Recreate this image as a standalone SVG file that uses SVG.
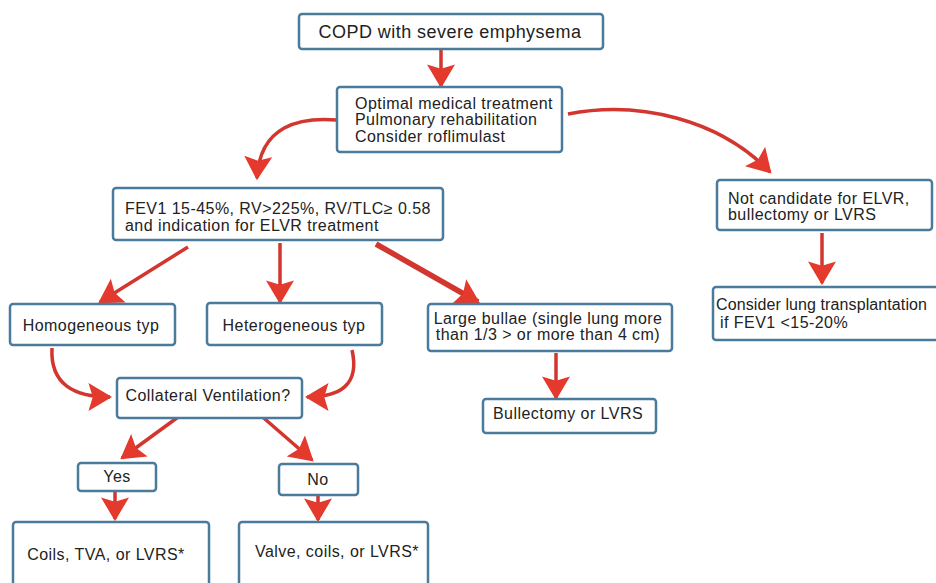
<svg xmlns="http://www.w3.org/2000/svg" width="936" height="583" viewBox="0 0 936 583">
<style>
.box{fill:#ffffff;stroke:#4a7b9d;stroke-width:2.5}
.t{font-family:"Liberation Sans",Arial,sans-serif;font-size:16px;fill:#222;letter-spacing:0.45px}
.c{text-anchor:middle}
.arr{fill:none;stroke:#d2362e;stroke-width:3.5;marker-end:url(#ah)}
</style>
<defs>
<marker id="ah" markerUnits="userSpaceOnUse" markerWidth="24" markerHeight="28" viewBox="0 0 22 26" refX="20" refY="13" orient="auto">
<path d="M0,0 L22,13 L0,26 L4,13 z" fill="#e33a2d"/>
</marker>
</defs>
<rect width="936" height="583" fill="#ffffff"/>
<g id="connectors">
<path class="arr" d="M441,49 L441,86"/>
<path class="arr" d="M337,120 C300,117 260,125 257,178"/>
<path class="arr" d="M568,114 C640,100 720,120 770,172"/>
<path class="arr" d="M822,233 L822,283"/>
<path class="arr" d="M188,247 L100,302"/>
<path class="arr" d="M280,243 L280,302"/>
<path class="arr" style="stroke-width:5.5" d="M376,244 L478,302"/>
<path class="arr" d="M556,353 L556,398"/>
<path class="arr" d="M52,348 C50,385 75,397 110,397"/>
<path class="arr" d="M352,350 C360,385 340,397 307,397"/>
<path class="arr" d="M185,412 L122,458"/>
<path class="arr" d="M258,413 L312,460"/>
<path class="arr" d="M115,492 L115,519"/>
<path class="arr" d="M318,496 L318,520"/>
</g>
<g id="n-copd">
<rect class="box" x="299" y="14" width="304" height="35" rx="3"/>
<text class="t c" x="450" y="38" style="font-size:18px">COPD with severe emphysema</text>
</g>
<g id="n-optimal">
<rect class="box" x="337" y="87" width="225" height="65" rx="3"/>
<text class="t" x="355" y="108.5">Optimal medical treatment</text>
<text class="t" x="355" y="125">Pulmonary rehabilitation</text>
<text class="t" x="355" y="141.5">Consider roflimulast</text>
</g>
<g id="n-fev1">
<rect class="box" x="113" y="188" width="330" height="52" rx="3"/>
<text class="t" x="125" y="213.5">FEV1 15-45%, RV&gt;225%, RV/TLC≥ 0.58</text>
<text class="t" x="125" y="230.5">and indication for ELVR treatment</text>
</g>
<g id="n-notcand">
<rect class="box" x="717" y="180" width="215" height="50" rx="3"/>
<text class="t" x="728" y="204">Not candidate for ELVR,</text>
<text class="t" x="728" y="220">bullectomy or LVRS</text>
</g>
<g id="n-transplant">
<rect class="box" x="713" y="287" width="230" height="53" rx="3"/>
<text class="t" x="716" y="310" style="letter-spacing:0.1px">Consider lung transplantation</text>
<text class="t" x="720" y="328">if FEV1 &lt;15-20%</text>
</g>
<g id="n-homog">
<rect class="box" x="10" y="304" width="165" height="41" rx="3"/>
<text class="t c" x="91" y="331">Homogeneous typ</text>
</g>
<g id="n-heterog">
<rect class="box" x="207" y="303" width="175" height="42" rx="3"/>
<text class="t c" x="294" y="331">Heterogeneous typ</text>
</g>
<g id="n-bullae">
<rect class="box" x="428" y="304" width="244" height="47" rx="3"/>
<text class="t c" x="548" y="324">Large bullae (single lung more</text>
<text class="t c" x="548" y="340">than 1/3 &gt; or more than 4 cm)</text>
</g>
<g id="n-bullectomy">
<rect class="box" x="483" y="399" width="173" height="34" rx="3"/>
<text class="t c" x="568" y="418.5">Bullectomy or LVRS</text>
</g>
<g id="n-collateral">
<rect class="box" x="117" y="378" width="185" height="40" rx="3"/>
<text class="t c" x="208" y="401">Collateral Ventilation?</text>
</g>
<g id="n-yes">
<rect class="box" x="78" y="463" width="78" height="28" rx="3"/>
<text class="t c" x="117" y="482">Yes</text>
</g>
<g id="n-no">
<rect class="box" x="279" y="464" width="79" height="31" rx="3"/>
<text class="t c" x="318" y="485">No</text>
</g>
<g id="n-coils">
<rect class="box" x="13" y="522" width="196" height="70" rx="3"/>
<text class="t c" x="106" y="560">Coils, TVA, or LVRS*</text>
</g>
<g id="n-valve">
<rect class="box" x="239" y="522" width="189" height="70" rx="3"/>
<text class="t c" x="337" y="557">Valve, coils, or LVRS*</text>
</g>
</svg>
